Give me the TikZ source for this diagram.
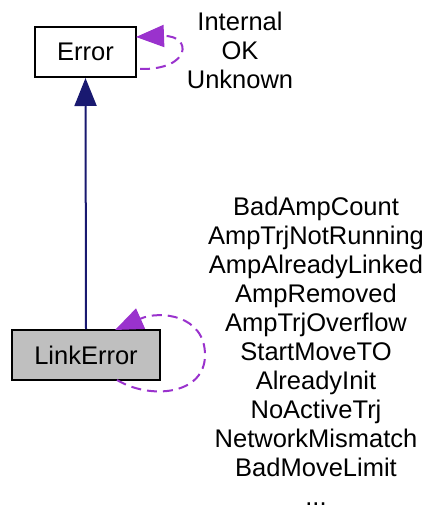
\documentclass[tikz,border=0pt]{standalone}
\usepackage{fontspec}
\setmainfont{Liberation Sans}
\usetikzlibrary{arrows.meta}
\definecolor{edgeblue}{HTML}{191970}
\definecolor{edgepurple}{HTML}{9A32CD}
\definecolor{boxgray}{HTML}{BFBFBF}
\tikzset{
  classbox/.style={draw=black, line width=2pt, minimum height=50pt, inner sep=0pt, font=\fontsize{25.5}{29}\selectfont},
  inherit/.style={draw=edgeblue, line width=2pt, -{Triangle[length=28pt,width=22pt]}},
  selfloop/.style={draw=edgepurple, line width=2pt, dash pattern=on 10pt off 6pt, -{Triangle[length=28pt,width=22pt]}},
  loplabel/.style={align=center, inner sep=0pt, font=\fontsize{25.5}{29}\selectfont}
}
\begin{document}
\begin{tikzpicture}[x=1pt,y=-1pt]
\useasboundingbox (0,0) rectangle (431,510);
\node[classbox, minimum width=101pt, fill=white] (err) at (85.5,52) {Error};
\node[classbox, minimum width=148pt, fill=boxgray] (le) at (86,355) {LinkError};
\draw[inherit] (le.north) -- (err.south);
\coordinate (e1) at (140,69);
\coordinate (e2) at (136,37);
\draw[selfloop] (e1) .. controls (192,70) and (192,35) .. (e2);
\coordinate (l1) at (117,380);
\coordinate (l2) at (205,355);
\coordinate (l3) at (115,330);
\draw[selfloop] (l1) .. controls (150,400) and (205,395) .. (l2) .. controls (205,315) and (160,310) .. (l3);
\node[loplabel] (errlab) at (240,50) {Internal\\OK\\Unknown};
\node[loplabel] (lelab) at (316,351.5) {BadAmpCount\\AmpTrjNotRunning\\AmpAlreadyLinked\\AmpRemoved\\AmpTrjOverflow\\StartMoveTO\\AlreadyInit\\NoActiveTrj\\NetworkMismatch\\BadMoveLimit\\...};
\end{tikzpicture}
\end{document}
